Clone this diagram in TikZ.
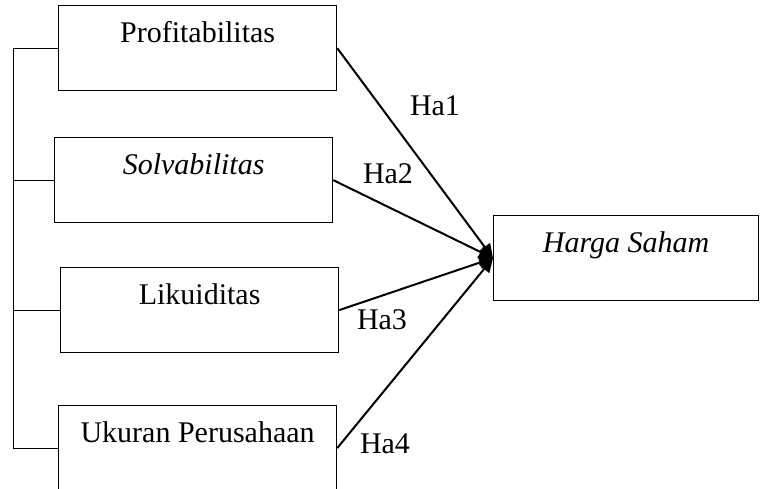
\documentclass[tikz,border=0pt]{standalone}
\usepackage{fontspec}
\setmainfont{Liberation Serif}
\usetikzlibrary{arrows.meta,positioning}
\tikzset{
  >={Triangle[length=14pt,width=13pt]},
  var/.style={draw, line width=1.2pt, minimum width=278pt, inner ysep=0pt,
    text height=37pt, text depth=48pt, anchor=north west,
    font=\fontsize{30}{36}\selectfont},
  hyp/.style={anchor=base, inner sep=0pt, font=\fontsize{30}{36}\selectfont},
  path/.style={->, line width=2pt},
  tie/.style={line width=1pt},
}
\begin{document}
\begin{tikzpicture}[x=1pt, y=-1pt]
  \useasboundingbox (0,0) rectangle (760,488);

  % independent variables
  \node[var] (prof) at (58,5) {Profitabilitas};
  \node[var] (solv) at (54,137) {\itshape Solvabilitas};
  \node[var] (likui) at (60,267) {Likuiditas};
  \node[var] (ukuran) at (58,405) {Ukuran Perusahaan};

  % dependent variable
  \node[var, minimum width=265pt] (harga) at (493,215) {\itshape Harga Saham};

  % bracket on the left
  \coordinate (btop) at (13,0 |- prof.west);
  \coordinate (bbot) at (13,0 |- ukuran.west);
  \draw[tie] (prof.west) -- (btop) -- (bbot) -- (ukuran.west);
  \draw[tie] (solv.west) -- (solv.west -| btop);
  \draw[tie] (likui.west) -- (likui.west -| btop);

  % hypotheses
  \draw[path] (prof.east) -- (harga.west);
  \draw[path] (solv.east) -- (harga.west);
  \draw[path] (likui.east) -- (harga.west);
  \draw[path] (ukuran.east) -- (harga.west);

  \node[hyp] (ha1) at (435,115) {Ha1};
  \node[hyp] (ha2) at (388,183) {Ha2};
  \node[hyp] (ha3) at (382,329) {Ha3};
  \node[hyp] (ha4) at (385,453) {Ha4};
\end{tikzpicture}
\end{document}
